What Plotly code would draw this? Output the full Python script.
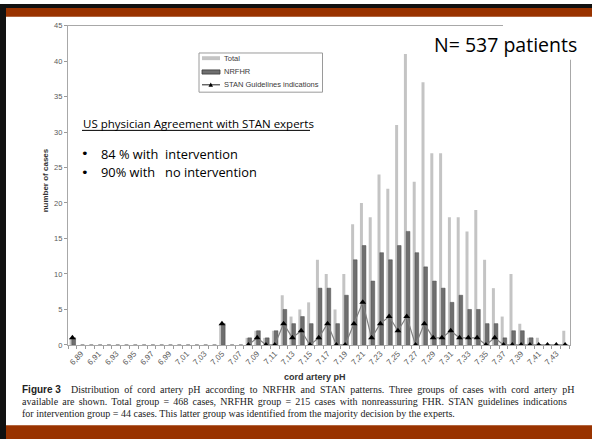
import plotly.graph_objects as go

W, H = 592, 444

ph_labels = ["6,88", "6,89", "6,90", "6,91", "6,92", "6,93", "6,94", "6,95", "6,96", "6,97",
             "6,98", "6,99", "7,00", "7,01", "7,02", "7,03", "7,04", "7,05", "7,06", "7,07",
             "7,08", "7,09", "7,10", "7,11", "7,12", "7,13", "7,14", "7,15", "7,16", "7,17",
             "7,18", "7,19", "7,20", "7,21", "7,22", "7,23", "7,24", "7,25", "7,26", "7,27",
             "7,28", "7,29", "7,30", "7,31", "7,32", "7,33", "7,34", "7,35", "7,36", "7,37",
             "7,38", "7,39", "7,40", "7,41", "7,42", "7,43", "7,44"]

total = [1, 0, 0, 0, 0, 0, 0, 0, 0, 0,
         0, 0, 0, 0, 0, 0, 0, 3, 0, 0,
         1, 2, 1, 2, 7, 4, 5, 6, 12, 10,
         5, 10, 17, 20, 18, 24, 22, 31, 41, 23,
         37, 27, 27, 18, 18, 16, 19, 12, 8, 4,
         10, 3, 1, 1, 0, 0, 2]

nrfhr = [1, 0, 0, 0, 0, 0, 0, 0, 0, 0,
         0, 0, 0, 0, 0, 0, 0, 3, 0, 0,
         1, 2, 1, 2, 5, 3, 4, 3, 8, 8,
         3, 7, 12, 14, 9, 13, 12, 14, 16, 13,
         11, 9, 8, 6, 7, 5, 5, 3, 3, 1,
         2, 2, 1, 0, 0, 0, 0]

stan = [1, None, None, None, None, None, None, None, None, None,
        None, None, None, None, None, None, None, 3, None, None,
        0, 1, 0, 0, 3, 1, 2, 0, 1, 3,
        0, 0, 3, 6, 1, 3, 4, 2, 4, 0,
        3, 1, 1, 2, 1, 1, 1, 0, 1, 0,
        0, 0, 0, 0, 0, 0, 0]

y_ticks = [0, 5, 10, 15, 20, 25, 30, 35, 40, 45]

ph_x = [float(s.replace(",", ".")) for s in ph_labels]


def px(x):
    return x / W


def py(y):
    return 1 - y / H


fig = go.Figure()

fig.add_trace(go.Bar(x=ph_x, y=total, name="Total", marker=dict(color="#c4c4c4", line=dict(width=0)),
                     width=0.0034, offset=-0.0032))
fig.add_trace(go.Bar(x=ph_x, y=nrfhr, name="NRFHR",
                     marker=dict(color="#6f6f6f", line=dict(color="#4a4a4a", width=0.5)),
                     width=0.0042, offset=-0.0006))
fig.add_trace(go.Scatter(x=ph_x, y=stan, name="STAN Guidelines indications", mode="lines+markers",
                         connectgaps=False,
                         line=dict(color="#808080", width=1.2),
                         marker=dict(symbol="triangle-up", size=6, color="#000000")))

axis_font = dict(family="Liberation Sans, Arial", size=8, color="#5a5a5a")

fig.update_layout(
    width=W, height=H,
    margin=dict(l=0, r=0, t=0, b=0),
    paper_bgcolor="white", plot_bgcolor="white",
    showlegend=False,
    barmode="overlay",
    xaxis=dict(domain=[px(68), px(569.5)], range=[6.875, 7.445],
               tickmode="array", tickvals=ph_x[1::2], ticktext=ph_labels[1::2],
               tickangle=-45, tickfont=axis_font, ticks="",
               minor=dict(tick0=6.875, dtick=0.01, ticks="outside", ticklen=3, tickcolor="#9a9a9a"),
               showline=True, linecolor="#a8a8a8", linewidth=1.2, mirror=True,
               showgrid=False, zeroline=False),
    yaxis=dict(domain=[py(348), py(22)], range=[0, 45],
               tickmode="array", tickvals=y_ticks,
               tickfont=dict(family="Liberation Sans, Arial", size=7.5, color="#5a5a5a"),
               ticks="outside", ticklen=3, tickcolor="#9a9a9a",
               showline=True, linecolor="#a8a8a8", linewidth=1.2, mirror=True,
               showgrid=False, zeroline=False),
)

shapes = []
# slide frame
shapes.append(dict(type="rect", xref="paper", yref="paper", x0=0, x1=1, y0=py(4), y1=1,
                   fillcolor="#111111", line=dict(width=0), layer="above"))
shapes.append(dict(type="rect", xref="paper", yref="paper", x0=px(6), x1=1, y0=py(13), y1=py(4),
                   fillcolor="#993300", line=dict(width=0), layer="above"))
shapes.append(dict(type="rect", xref="paper", yref="paper", x0=0, x1=px(6), y0=0, y1=1,
                   fillcolor="#111111", line=dict(width=0), layer="above"))
shapes.append(dict(type="rect", xref="paper", yref="paper", x0=px(6), x1=1, y0=0, y1=py(430),
                   fillcolor="#993300", line=dict(width=0), layer="above"))
# white text box of the slide covering the chart frame corner
shapes.append(dict(type="rect", xref="paper", yref="paper", x0=px(503), x1=px(585), y0=py(57), y1=py(16),
                   fillcolor="white", line=dict(width=0), layer="above"))
# legend box
shapes.append(dict(type="rect", xref="paper", yref="paper", x0=px(199), x1=px(322.5), y0=py(90), y1=py(50),
                   fillcolor="white", line=dict(color="#9a9a9a", width=1), layer="above"))
shapes.append(dict(type="rect", xref="paper", yref="paper", x0=px(202), x1=px(220), y0=py(57.3), y1=py(53.3),
                   fillcolor="#c4c4c4", line=dict(width=0), layer="above"))
shapes.append(dict(type="rect", xref="paper", yref="paper", x0=px(202), x1=px(220), y0=py(71.5), y1=py(67.3),
                   fillcolor="#6f6f6f", line=dict(color="#3a3a3a", width=0.8), layer="above"))
shapes.append(dict(type="line", xref="paper", yref="paper", x0=px(202), x1=px(220), y0=py(82.5), y1=py(82.5),
                   line=dict(color="#222222", width=1), layer="above"))
shapes.append(dict(type="path", xref="paper", yref="paper",
                   path="M {} {} L {} {} L {} {} Z".format(px(208.5), py(84.5), px(213), py(84.5), px(210.75), py(80.2)),
                   fillcolor="#000000", line=dict(width=0), layer="above"))
# underline for heading
shapes.append(dict(type="line", xref="paper", yref="paper", x0=px(82), x1=px(310), y0=py(129), y1=py(129),
                   line=dict(color="#000000", width=1), layer="above"))
fig.update_layout(shapes=shapes)

ann = []
leg_font = dict(family="Liberation Sans, Arial", size=7.5, color="#3a3a3a")
for txt, yy in [("Total", 55.3), ("NRFHR", 69.4), ("STAN Guidelines indications", 82.5)]:
    ann.append(dict(text=txt, x=px(222), y=py(yy), xref="paper", yref="paper", showarrow=False,
                    xanchor="left", yanchor="middle", font=leg_font))

body = "Open Sans"
ann.append(dict(text="N= 537 patients", x=px(579), y=py(41), xref="paper", yref="paper", showarrow=False,
                xanchor="right", yanchor="middle", font=dict(family=body, size=19.5, color="#000000")))
ann.append(dict(text="US physician Agreement with STAN experts", x=px(81), y=py(121.5), xref="paper", yref="paper",
                showarrow=False, xanchor="left", yanchor="middle", font=dict(family=body, size=11.5, color="#000000")))
for yy in (153, 171.5):
    ann.append(dict(text="•", x=px(79), y=py(yy), xref="paper", yref="paper", showarrow=False,
                    xanchor="left", yanchor="middle", font=dict(family="DejaVu Sans", size=13, color="#000000")))
ann.append(dict(text="84 % with\u00a0 intervention", x=px(99), y=py(153), xref="paper", yref="paper", showarrow=False,
                xanchor="left", yanchor="middle", font=dict(family=body, size=12.8, color="#000000")))
ann.append(dict(text="90% with \u00a0\u00a0no intervention", x=px(99), y=py(171.5), xref="paper", yref="paper",
                showarrow=False, xanchor="left", yanchor="middle", font=dict(family=body, size=12.8, color="#000000")))

# axis titles
ann.append(dict(text="<b>cord artery pH</b>", x=px(315), y=py(381), xref="paper", yref="paper", showarrow=False,
                xanchor="center", yanchor="middle", font=dict(family="Liberation Sans, Arial", size=9, color="#333333")))
ann.append(dict(text="<b>number of cases</b>", x=px(45), y=py(180), xref="paper", yref="paper", showarrow=False,
                textangle=-90, xanchor="center", yanchor="middle",
                font=dict(family="Liberation Sans, Arial", size=8, color="#333333")))

cap_font = dict(family="Liberation Serif, Times New Roman", size=10, color="#222222")
cap_lines = [
    "<span style=\"font-family:'Liberation Sans'\"><b>Figure 3</b></span>\u00a0\u00a0\u00a0 <span style=\"word-spacing:2.4px\">Distribution of cord artery pH according to NRFHR and STAN patterns. Three groups of cases with cord artery pH</span>",
    "<span style=\"word-spacing:1.7px\">available are shown. Total group = 468 cases, NRFHR group = 215 cases with nonreassuring FHR. STAN guidelines indications</span>",
    "for intervention group = 44 cases. This latter group was identified from the majority decision by the experts.",
]
for i, line in enumerate(cap_lines):
    ann.append(dict(text=line, x=px(20), y=py(393 + 12.5 * i), xref="paper", yref="paper", showarrow=False,
                    xanchor="left", yanchor="middle", font=cap_font))

fig.update_layout(annotations=ann)

fig.write_html("out.html", config={"displayModeBar": False},
               post_script="document.body.style.margin='0';document.body.style.overflow='hidden';")
